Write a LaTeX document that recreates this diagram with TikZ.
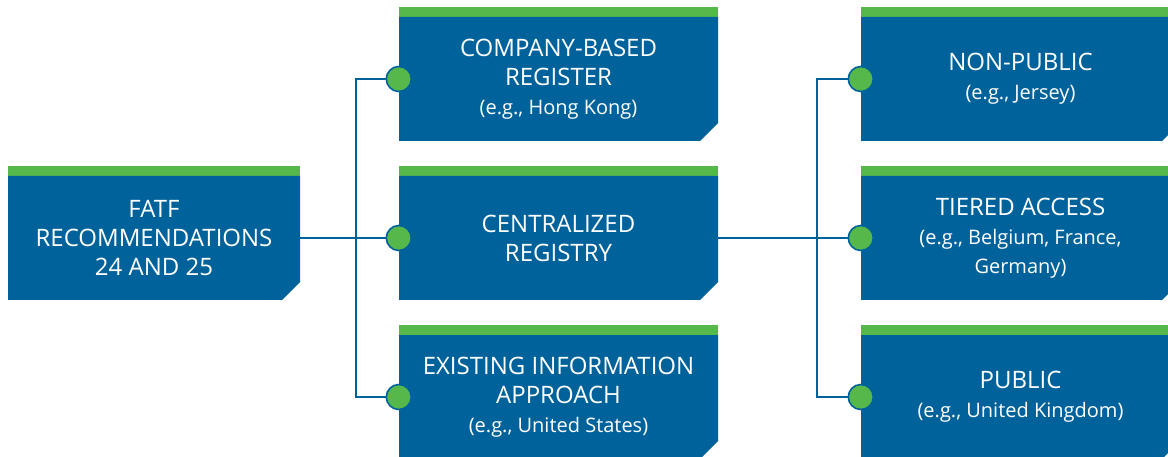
\documentclass[tikz,border=0pt]{standalone}
\usepackage{fontspec}
\setmainfont{Open Sans}
\definecolor{blu}{HTML}{00629B}
\definecolor{grn}{HTML}{56B84A}
\newcommand{\subf}{\fontsize{20}{29}\selectfont}
\newcommand{\tagbox}[6]{%
  \fill[grn] (#2,#3) rectangle (#4,#3+10);
  \fill[blu] (#2,#3+10) -- (#4,#3+10) -- (#4,#5-18) -- (#4-18,#5) -- (#2,#5) -- cycle;
  \node[txt, minimum width={(#4-#2)*1pt}, minimum height={(#5-#3-10)*1pt}] (#1)
    at ({(#2+#4)/2},{(#3+10+#5)/2}) {#6};
}
\tikzset{
  txt/.style={inner sep=0pt, text=white, align=center, font=\fontsize{24}{29}\selectfont},
  conn/.style={draw=blu, line width=2pt},
  dot/.style={circle, fill=grn, draw=blu, line width=1.6pt, minimum size=25pt, inner sep=0pt}
}
\begin{document}
\begin{tikzpicture}[x=1pt,y=-1pt]
\clip (0,0) rectangle (1168,457);
\fill[white] (0,0) rectangle (1168,457);
\tagbox{fatf}{8}{166}{300}{300}{FATF\\RECOMMENDATIONS\\24 AND 25}
\tagbox{comp}{399}{7}{718}{141}{COMPANY-BASED\\REGISTER\\{\subf (e.g., Hong Kong)}}
\tagbox{cent}{399}{166}{718}{300}{CENTRALIZED\\REGISTRY}
\tagbox{exist}{399}{325}{718}{459}{EXISTING INFORMATION\\APPROACH\\{\subf (e.g., United States)}}
\tagbox{nonp}{861}{7}{1180}{141}{NON-PUBLIC\\{\subf (e.g., Jersey)}}
\tagbox{tier}{861}{166}{1180}{300}{TIERED ACCESS\\{\subf (e.g., Belgium, France,}\\{\subf Germany)}}
\tagbox{publ}{861}{325}{1180}{459}{PUBLIC\\{\subf (e.g., United Kingdom)}}
% connectors
\coordinate (j1) at (356,238);
\coordinate (j2) at (817,238);
\draw[conn] (fatf.east) -- (cent.west);
\draw[conn] (comp.west) -| (j1) |- (exist.west);
\draw[conn] (cent.east) -- (tier.west);
\draw[conn] (nonp.west) -| (j2) |- (publ.west);
% dots
\foreach \n in {comp,cent,exist,nonp,tier,publ}
  \node[dot] (d\n) at (\n.west) {};
\end{tikzpicture}
\end{document}
